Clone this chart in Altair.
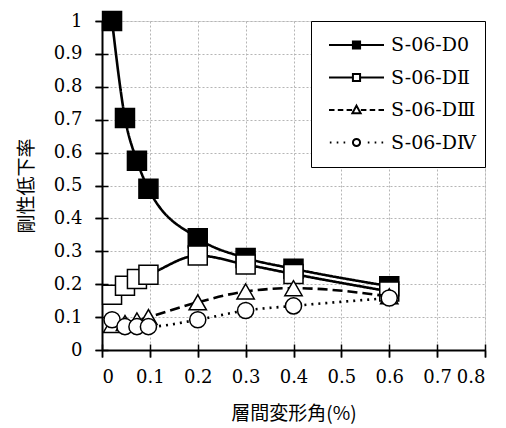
import altair as alt
import pandas as pd

series_names = ["S-06-D0", "S-06-DⅡ", "S-06-DⅢ", "S-06-DⅣ"]
drift = [0.021, 0.048, 0.073, 0.097, 0.2, 0.3, 0.4, 0.6]
d0 = [1.0, 0.705, 0.575, 0.49, 0.34, 0.28, 0.247, 0.194]
d2 = [0.168, 0.195, 0.216, 0.229, 0.287, 0.26, 0.231, 0.178]
d3 = [0.076, 0.082, 0.09, 0.1, 0.145, 0.178, 0.188, 0.163]
d4 = [0.092, 0.071, 0.071, 0.071, 0.092, 0.12, 0.134, 0.158]
x_ticks = [0, 0.1, 0.2, 0.3, 0.4, 0.5, 0.6, 0.7, 0.8]
y_ticks = [0, 0.1, 0.2, 0.3, 0.4, 0.5, 0.6, 0.7, 0.8, 0.9, 1]

rows = []
for name, vals in zip(series_names, [d0, d2, d3, d4]):
    for xv, yv in zip(drift, vals):
        rows.append({"series": name, "x": xv, "y": yv})
df = pd.DataFrame(rows)

SERIF = "DejaVu Serif"
CJK = "Noto Sans CJK JP"
x_scale = alt.Scale(domain=[0, 0.8], nice=False)
y_scale = alt.Scale(domain=[0, 1], nice=False)

x_enc = alt.X("x:Q", scale=x_scale,
              axis=alt.Axis(values=x_ticks, format="~g", title="層間変形角(%)", orient="bottom",
                            grid=True, gridDash=[2, 2], gridColor="#b5b5b5",
                            domainColor="black", domainWidth=2, tickColor="black",
                            tickWidth=1.5, tickSize=7, labelFont=SERIF, labelFontSize=18,
                            labelOverlap=False, labelColor="black", labelPadding=11,
                            titleFont=CJK, titleFontSize=19, titleFontWeight="normal",
                            titleColor="black", titleY=54, titleBaseline="top"))
y_enc = alt.Y("y:Q", scale=y_scale,
              axis=alt.Axis(values=y_ticks, format="~g", title="剛性低下率", orient="left",
                            grid=True, gridDash=[2, 2], gridColor="#b5b5b5",
                            domainColor="black", domainWidth=2, tickColor="black",
                            tickWidth=1.5, tickSize=7, labelFont=SERIF, labelFontSize=18,
                            labelOverlap=False, labelColor="black", labelPadding=13,
                            titleFont=CJK, titleFontSize=19, titleFontWeight="normal",
                            titleColor="black", titleX=-66, titleBaseline="bottom"))

styles = [
    dict(dash=[1, 0], shape="square", fill="black", size=361),
    dict(dash=[1, 0], shape="square", fill="white", size=361),
    dict(dash=[10, 5], shape="triangle-up", fill="white", size=300),
    dict(dash=[2, 5], shape="circle", fill="white", size=260),
]

layers = []
for name, st in zip(series_names, styles):
    base = alt.Chart(df).transform_filter(alt.datum.series == name)
    layers.append(base.mark_line(color="black", strokeWidth=2.6, strokeDash=st["dash"],
                                 interpolate="monotone").encode(x=x_enc, y=y_enc))
    layers.append(base.mark_point(shape=st["shape"], filled=True, fill=st["fill"],
                                  stroke="black", strokeWidth=1.5, size=st["size"],
                                  opacity=1).encode(x=x_enc, y=y_enc))

legend_paths = [
    "M-1,0H1M-0.13,-0.13H0.13V0.13H-0.13Z",
    "M-1,0H-0.13M0.13,0H1M-0.13,-0.13H0.13V0.13H-0.13Z",
    "M-1,0H-0.8M-0.68,0H-0.48M-0.36,0H-0.16M0.16,0H0.36M0.48,0H0.68M0.8,0H1"
    "M0,-0.16L0.15,0.12H-0.15Z",
    "M-0.97,0H-0.91M-0.72,0H-0.66M-0.47,0H-0.41M0.41,0H0.47M0.66,0H0.72M0.91,0H0.97"
    "M0.13,0A0.13,0.13,0,1,1,-0.13,0A0.13,0.13,0,1,1,0.13,0Z",
]
legend_fills = ["black", "white", "white", "white"]
legend_strokes = ["black", "black", "black", "black"]

LABEL_EXPR = "datum.label + '\u00a0\u00a0\u00a0'"

legend_layer = alt.Chart(df).transform_filter("false").mark_point(
    filled=True, strokeWidth=2, opacity=1
).encode(
    x=x_enc, y=y_enc,
    shape=alt.Shape("series:N", scale=alt.Scale(domain=series_names, range=legend_paths),
                    legend=alt.Legend(title=None, orient="top-right", offset=0,
                                      fillColor="white", strokeColor="black", padding=9,
                                      symbolSize=3025, symbolStrokeWidth=2,
                                      symbolStrokeColor="black", clipHeight=30,
                                      rowPadding=2.5, labelFont=SERIF, labelFontSize=19,
                                      labelColor="black", labelOffset=6, symbolOffset=8,
                                      labelExpr=LABEL_EXPR)),
    fill=alt.Fill("series:N", scale=alt.Scale(domain=series_names, range=legend_fills),
                  legend=alt.Legend(title=None, labelExpr=LABEL_EXPR)),
    stroke=alt.Stroke("series:N", scale=alt.Scale(domain=series_names, range=legend_strokes),
                      legend=alt.Legend(title=None, labelExpr=LABEL_EXPR)),
)

main = alt.layer(*layers, legend_layer)

# inner half of the tick marks (ticks crossing the axis lines)
tick_layer = alt.Chart(df).transform_filter("false").mark_point(opacity=0).encode(
    x=alt.X("x:Q", scale=x_scale,
            axis=alt.Axis(values=x_ticks, orient="bottom", offset=-6, tickSize=13,
                          tickColor="black", tickWidth=1.5, labels=False, domain=False,
                          grid=False, title=None)),
    y=alt.Y("y:Q", scale=y_scale,
            axis=alt.Axis(values=y_ticks, orient="left", offset=-6, tickSize=13,
                          tickColor="black", tickWidth=1.5, labels=False, domain=False,
                          grid=False, title=None)),
)

chart = alt.layer(main, tick_layer).resolve_axis(x="independent", y="independent").properties(
    width=383, height=329,
    autosize=alt.AutoSizeParams(type="none"),
    padding={"left": 102, "top": 21, "right": 21, "bottom": 78},
).configure_view(stroke="black", strokeWidth=2).configure(background="white")

chart.save("out.html", embed_options={"renderer": "svg", "actions": False})
